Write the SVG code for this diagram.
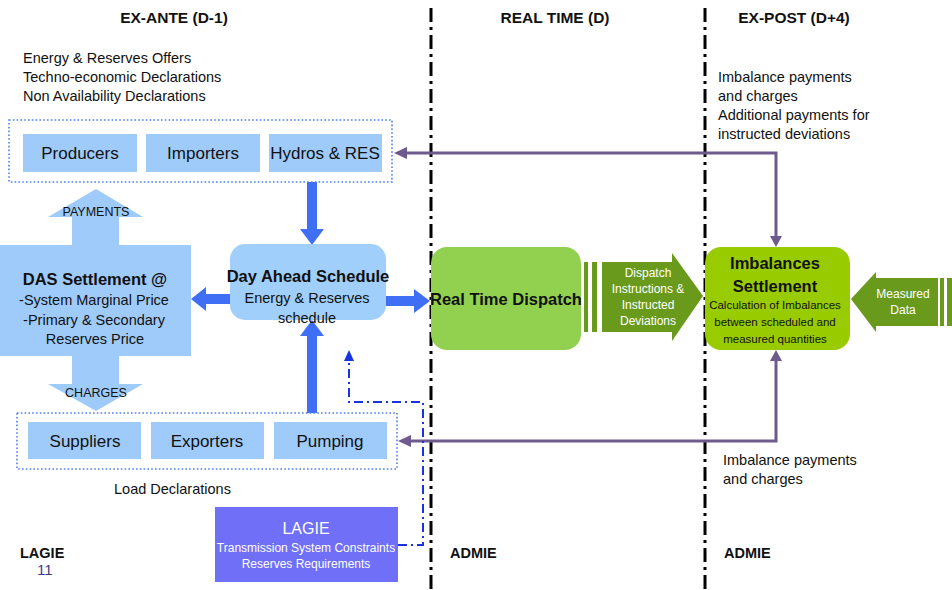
<svg xmlns="http://www.w3.org/2000/svg" width="952" height="590" viewBox="0 0 952 590">
<defs>
<style>
text{font-family:"Liberation Sans",Arial,sans-serif;fill:#111}
.h{font-weight:bold;font-size:15.5px}
.s{font-size:14.5px}
.b{font-size:17px}
.t{font-weight:bold;font-size:16.5px}
.w{fill:#fff}
.sm{font-size:12px}
.ent{fill:#9fcbfb}
.dot{fill:none;stroke:#4d7ff2;stroke-width:1.6;stroke-dasharray:1.6 2.2}
.div{stroke:#000;stroke-width:3;stroke-dasharray:14 5 3 5}
.blue{fill:#3f6ff5}
.pur{fill:none;stroke:#6f5a8e;stroke-width:3}
.purh{fill:#6f5a8e}
.dd{fill:none;stroke:#1a33e0;stroke-width:2;stroke-dasharray:9 4 2 4}
</style>
</defs>
<rect width="952" height="590" fill="#fff"/>

<g id="dividers">
<line class="div" x1="431" y1="8" x2="431" y2="590"/>
<line class="div" x1="705" y1="8" x2="705" y2="590"/>
</g>

<g id="headings">
<text class="h" x="174" y="23" text-anchor="middle">EX-ANTE (D-1)</text>
<text class="h" x="555" y="23" text-anchor="middle">REAL TIME (D)</text>
<text class="h" x="794" y="23" text-anchor="middle">EX-POST (D+4)</text>
<text class="s" x="23" y="63">Energy &amp; Reserves Offers</text>
<text class="s" x="23" y="82">Techno-economic Declarations</text>
<text class="s" x="23" y="101">Non Availability Declarations</text>
<text class="s" x="718" y="82">Imbalance payments</text>
<text class="s" x="718" y="101">and charges</text>
<text class="s" x="718" y="120">Additional payments for</text>
<text class="s" x="718" y="139">instructed deviations</text>
<text class="s" x="723" y="465">Imbalance payments</text>
<text class="s" x="723" y="484">and charges</text>
<text class="s" x="114" y="494">Load Declarations</text>
<text class="h" x="20" y="558" style="font-size:14.5px">LAGIE</text>
<text x="37" y="575" style="font-size:15px;fill:#3c3c8c">11</text>
<text class="h" x="450" y="558" style="font-size:14.5px">ADMIE</text>
<text class="h" x="724" y="558" style="font-size:14.5px">ADMIE</text>
</g>

<g id="connectors">
<polygon class="blue" points="307,182 317,182 317,229 324,229 312,245 300,229 307,229"/>
<polygon class="blue" points="307,413 317,413 317,336 324,336 312,320 300,336 307,336"/>
<polygon class="blue" points="230,294 230,304 206,304 206,311 191,299 206,287 206,294"/>
<polygon class="blue" points="386,296 386,306 414,306 414,313 430,301 414,289 414,296"/>
<polyline class="pur" points="776,238 776,153 405,153"/>
<polygon class="purh" points="394,153 407,147 407,159"/>
<polygon class="purh" points="776,247 770,236 782,236"/>
<polyline class="pur" points="776,360 776,441 409,441"/>
<polygon class="purh" points="398,441 411,435 411,447"/>
<polygon class="purh" points="776,350 770,361 782,361"/>
<polyline class="dd" points="398,545 423,545 423,402 349,402 349,360"/>
<polygon fill="#1a33e0" points="349,350 344,361 354,361"/>
</g>

<g id="offers-group">
<rect class="dot" x="9" y="120" width="383" height="62"/>
</g>
<g id="producers"><rect class="ent" x="23" y="134" width="114" height="38"/><text class="b" x="80" y="159" text-anchor="middle">Producers</text></g>
<g id="importers"><rect class="ent" x="146" y="134" width="114" height="38"/><text class="b" x="203" y="159" text-anchor="middle">Importers</text></g>
<g id="hydros"><rect class="ent" x="269" y="134" width="113" height="38"/><text class="b" x="325" y="159" text-anchor="middle">Hydros &amp; RES</text></g>

<g id="load-group">
<rect class="dot" x="17" y="413" width="380" height="56"/>
</g>
<g id="suppliers"><rect class="ent" x="28" y="422" width="113" height="37"/><text class="b" x="85" y="447" text-anchor="middle">Suppliers</text></g>
<g id="exporters"><rect class="ent" x="151" y="422" width="113" height="37"/><text class="b" x="207" y="447" text-anchor="middle">Exporters</text></g>
<g id="pumping"><rect class="ent" x="274" y="422" width="113" height="37"/><text class="b" x="330" y="447" text-anchor="middle">Pumping</text></g>

<g id="das-settlement">
<polygon class="ent" points="96,189 143,217 119,217 119,245 191,245 191,356 119,356 119,384 143,384 96,411 48,384 72,384 72,356 0,356 0,245 72,245 72,217 48,217"/>
<text x="96" y="216" text-anchor="middle" style="font-size:12.5px">PAYMENTS</text>
<text x="96" y="397" text-anchor="middle" style="font-size:12.5px">CHARGES</text>
<text class="t" x="95" y="285" text-anchor="middle">DAS Settlement @</text>
<text class="s" x="94" y="305" text-anchor="middle">-System Marginal Price</text>
<text class="s" x="94" y="325" text-anchor="middle">-Primary &amp; Secondary</text>
<text class="s" x="95" y="344" text-anchor="middle">Reserves Price</text>
</g>

<g id="day-ahead">
<rect x="230" y="244" width="156" height="76" rx="15" fill="#a0cffb"/>
<text class="t" x="308" y="282" text-anchor="middle">Day Ahead Schedule</text>
<text class="s" x="307" y="303" text-anchor="middle">Energy &amp; Reserves</text>
<text class="s" x="307" y="323" text-anchor="middle">schedule</text>
</g>

<g id="real-time">
<rect x="431" y="247" width="150" height="103" rx="16" fill="#92d050"/>
<text class="t" x="506" y="305" text-anchor="middle">Real Time Dispatch</text>
</g>

<g id="dispatch-arrow">
<rect x="584" y="262" width="4" height="70" fill="#6a9a1c"/>
<rect x="592" y="262" width="5" height="70" fill="#6a9a1c"/>
<polygon points="602,262 672,262 672,253 703,296 672,341 672,332 602,332" fill="#6a9a1c"/>
<text class="w sm" x="648" y="277" text-anchor="middle">Dispatch</text>
<text class="w sm" x="648" y="293" text-anchor="middle">Instructions &amp;</text>
<text class="w sm" x="648" y="309" text-anchor="middle">Instructed</text>
<text class="w sm" x="648" y="325" text-anchor="middle">Deviations</text>
</g>

<g id="imbalances">
<rect x="705" y="247" width="145" height="103" rx="16" fill="#99cc00"/>
<text class="t" x="775" y="269" text-anchor="middle">Imbalances</text>
<text class="t" x="775" y="292" text-anchor="middle">Settlement</text>
<text x="775" y="309" text-anchor="middle" style="font-size:11.5px">Calculation of Imbalances</text>
<text x="775" y="326" text-anchor="middle" style="font-size:11.5px">between scheduled and</text>
<text x="775" y="343" text-anchor="middle" style="font-size:11.5px">measured quantities</text>
</g>

<g id="measured-data">
<polygon points="851,299 876,272 876,278 938,278 938,326 876,326 876,332" fill="#6a9a1c"/>
<rect x="940" y="278" width="4" height="48" fill="#6a9a1c"/>
<rect x="947" y="278" width="5" height="48" fill="#6a9a1c"/>
<text class="w sm" x="903" y="298" text-anchor="middle">Measured</text>
<text class="w sm" x="903" y="314" text-anchor="middle">Data</text>
</g>

<g id="lagie">
<rect x="215" y="507" width="183" height="75" fill="#6f6ff8"/>
<text class="w" x="306" y="534" text-anchor="middle" style="font-size:16px">LAGIE</text>
<text class="w sm" x="306" y="552" text-anchor="middle">Transmission  System Constraints</text>
<text class="w sm" x="306" y="568" text-anchor="middle">Reserves Requirements</text>
</g>
</svg>
